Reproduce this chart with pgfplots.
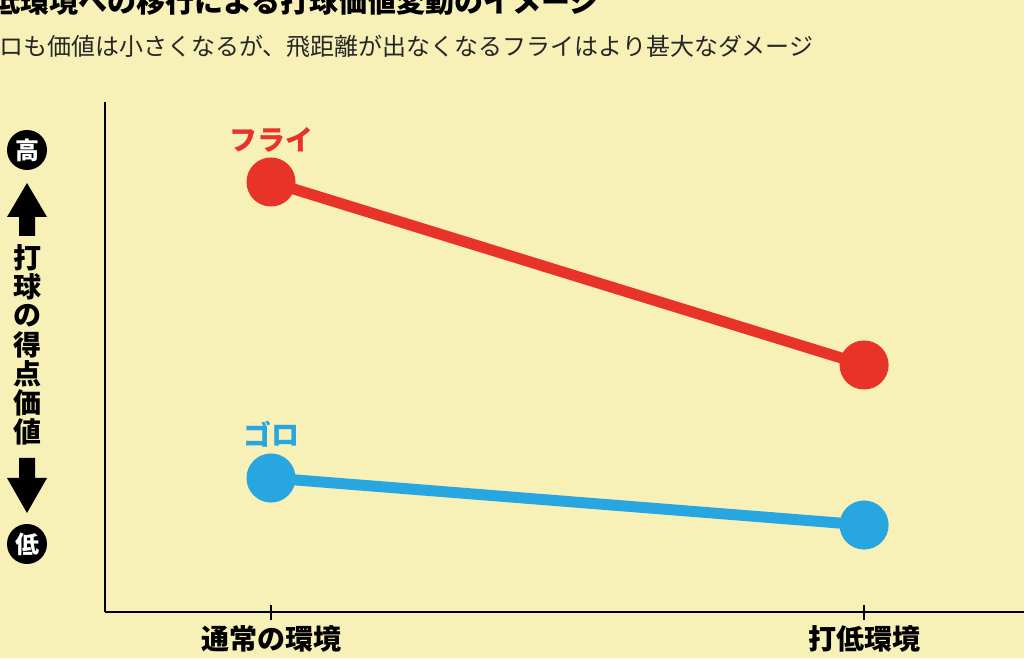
\documentclass[border=0pt]{standalone}
\usepackage{pgfplots}
\pgfplotsset{compat=1.18}
\usepackage{fontspec}
\setmainfont{Noto Sans CJK JP}
\definecolor{bg}{RGB}{247,241,184}
\definecolor{redc}{RGB}{232,52,40}
\definecolor{bluec}{RGB}{40,166,224}
\begin{document}
\begin{tikzpicture}[x=1pt,y=1pt]
\useasboundingbox (0,0) rectangle (1024,658);
\clip (0,0) rectangle (1024,658);
\fill[bg] (0,0) rectangle (1024,658);
\node[anchor=base west, inner sep=0pt, font=\fontsize{29}{34}\selectfont\bfseries] at (-38,645) {打低環境への移行による打球価値変動のイメージ};
\node[anchor=base west, inner sep=0pt, font=\fontsize{24}{28}\selectfont, text=black!85] at (-25,602) {ゴロも価値は小さくなるが、飛距離が出なくなるフライはより甚大なダメージ};
\begin{axis}[
  at={(105pt,46pt)}, anchor=south west, scale only axis,
  width=937pt, height=510pt,
  xmin=-0.2799, xmax=1.3, ymin=0, ymax=510,
  axis lines=left, axis line style={-, line width=2pt, black},
  xtick={0,1}, xticklabels={通常の環境,打低環境}, ytick=\empty,
  tick align=center, major tick length=15pt, tick style={black, line width=1.5pt},
  xticklabel style={font=\fontsize{28}{32}\selectfont\bfseries, inner sep=0pt, anchor=north, yshift=-6pt},
  clip=false,
]
\addplot[redc, line width=11pt, mark=*, mark size=19pt, mark options={solid, fill=redc, draw=none}] coordinates {(0,430) (1,247)};
\addplot[bluec, line width=11pt, mark=*, mark size=19pt, mark options={solid, fill=bluec, draw=none}] coordinates {(0,134) (1,87)};
\node[text=redc, font=\fontsize{28}{32}\selectfont\bfseries] at (axis cs:0,472) {フライ};
\node[text=bluec, font=\fontsize{28}{32}\selectfont\bfseries] at (axis cs:0,178) {ゴロ};
\end{axis}
\fill (27,508) circle (20);
\node[text=white, font=\fontsize{24}{28}\selectfont\bfseries] at (27,508) {高};
\fill (27,475) -- (47,441) -- (35,441) -- (35,422) -- (19,422) -- (19,441) -- (7,441) -- cycle;
\foreach \c [count=\i from 0] in {打,球,の,得,点,価,値}
  \node[font=\fontsize{28}{32}\selectfont\bfseries] at (27,{400.5-29*\i}) {\c};
\fill (19,200) -- (35,200) -- (35,180) -- (47,180) -- (27,145) -- (7,180) -- (19,180) -- cycle;
\fill (27,114) circle (20);
\node[text=white, font=\fontsize{24}{28}\selectfont\bfseries] at (27,114) {低};
\end{tikzpicture}
\end{document}
